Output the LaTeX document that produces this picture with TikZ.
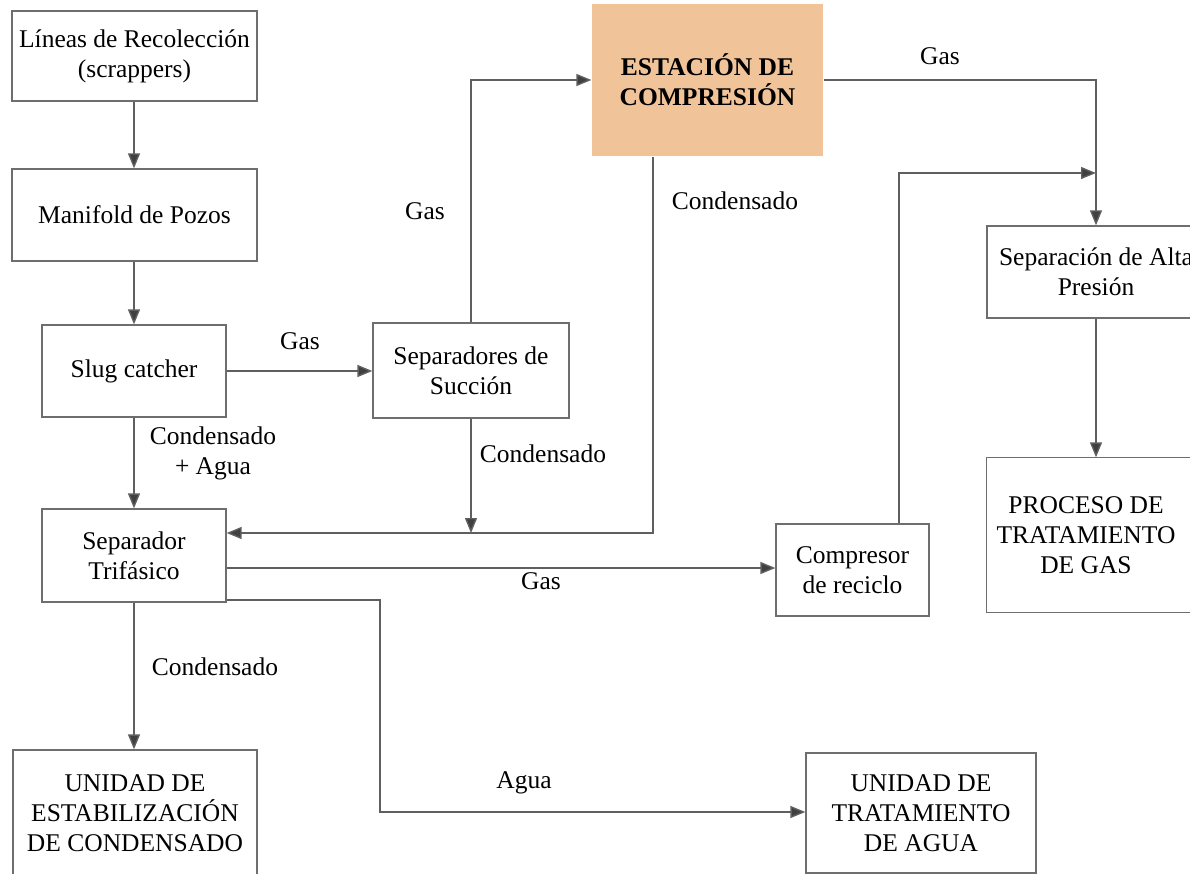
\documentclass[tikz,border=0pt]{standalone}
\usepackage{fontspec}
\setmainfont{Liberation Serif}
\newfontfamily\libser{Liberation Serif}
\usetikzlibrary{arrows.meta}
\definecolor{boxline}{RGB}{110,110,110}
\definecolor{conn}{RGB}{95,95,95}
\definecolor{tipc}{RGB}{64,64,64}
\definecolor{orangefill}{RGB}{241,195,153}
\tikzset{
  txt/.style={font=\libser\fontsize{25.5}{30}\selectfont},
  blk/.style={txt, draw=boxline, line width=1.3pt, rectangle, inner sep=0pt, align=center},
  lbl/.style={txt, inner sep=0pt, align=center},
  flow/.style={draw=conn, line width=1.4pt, -{Triangle[length=15pt,width=12pt,fill=tipc]}},
}
\newcommand{\blkat}[7]{% name, x1, y1, x2, y2, style, text
  \node[blk,#6, minimum width={(#4-#2)*1pt}, minimum height={(#5-#3)*1pt}]
    (#1) at ({(#2+#4)/2},{(#3+#5)/2}) {#7};}
\begin{document}
\begin{tikzpicture}[x=1pt,y=-1pt]
\useasboundingbox (0,0) rectangle (1190,874);
\clip (0,0) rectangle (1190,874);
% boxes
\blkat{lin}{12}{11}{257}{101}{}{Líneas de Recolección\\(scrappers)}
\blkat{man}{12}{169}{257}{261}{}{Manifold de Pozos}
\blkat{slug}{42}{325}{226}{417}{}{Slug catcher}
\blkat{tri}{42}{509}{226}{602}{}{Separador\\Trifásico}
\blkat{est}{13}{750}{257}{876}{}{UNIDAD DE\\ESTABILIZACIÓN\\DE CONDENSADO}
\blkat{suc}{373}{323}{569}{418}{}{Separadores de\\Succión}
\blkat{comp}{592}{4}{823}{156}{draw=none,fill=orangefill,font=\libser\fontsize{25.5}{30}\selectfont\bfseries}{ESTACIÓN DE\\COMPRESIÓN}
\blkat{alta}{987}{226}{1205}{318}{}{Separación de Alta\\Presión}
\blkat{proc}{987}{458}{1185}{612}{draw=none}{PROCESO DE\\TRATAMIENTO\\DE GAS}
\draw[boxline, line width=1.3pt] (proc.north east) ++(30,0) -- (proc.north west) -- (proc.south west) -- ++(228,0);
\blkat{rec}{776}{524}{929}{616}{}{Compresor\\de reciclo}
\blkat{agua}{806}{753}{1036}{873}{}{UNIDAD DE\\TRATAMIENTO\\DE AGUA}
% junction coordinates
\coordinate (jc) at (471,533);
\coordinate (jt) at (1096,173);
% connectors
\draw[flow] (lin.south -| 134,0) -- (man.north -| 134,0);
\draw[flow] (man.south -| 134,0) -- (slug.north -| 134,0);
\draw[flow] (slug.south -| 134,0) -- (tri.north -| 134,0);
\draw[flow] (slug.east |- 0,371) -- (suc.west |- 0,371);
\draw[flow] (suc.north -| jc) |- (comp.west |- 0,80);
\draw[flow] (suc.south -| jc) -- (jc);
\draw[flow] (comp.south -| 653,0) |- (tri.east |- jc);
\draw[flow] (comp.east |- 0,80) -| (alta.north -| 1096,0);
\draw[flow] (rec.north -| 899,0) |- (jt);
\draw[flow] (alta.south -| 1096,0) -- (proc.north -| 1096,0);
\draw[flow] (tri.east |- 0,568) -- (rec.west |- 0,568);
\draw[flow] (tri.east |- 0,600) -| (380,812) -- (agua.west |- 0,812);
\draw[flow] (tri.south -| 134,0) -- (est.north -| 134,0);
% labels
\node[lbl] (l1) at (300,341) {Gas};
\node[lbl] (l2) at (425,211) {Gas};
\node[lbl] (l3) at (543,454) {Condensado};
\node[lbl] (l4) at (735,201) {Condensado};
\node[lbl] (l5) at (940,56) {Gas};
\node[lbl] (l6) at (213,453) {Condensado\\+ Agua};
\node[lbl] (l7) at (541,581) {Gas};
\node[lbl] (l8) at (215,667) {Condensado};
\node[lbl] (l9) at (524,783) {Agua};
\end{tikzpicture}
\end{document}
